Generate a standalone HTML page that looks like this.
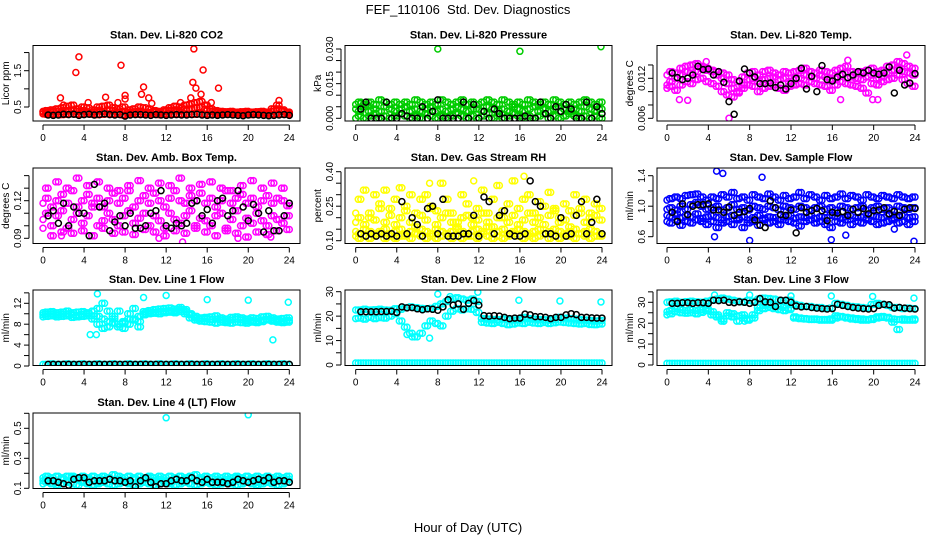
<!DOCTYPE html>
<html><head><meta charset="utf-8"><style>
html,body{margin:0;padding:0;background:#fff;}
svg{display:block;font-family:"Liberation Sans",Arial,sans-serif;}
</style></head><body>
<svg id="chart" width="936" height="540" viewBox="0 0 936 540" xmlns="http://www.w3.org/2000/svg">
<text x="468" y="14" text-anchor="middle" font-size="13" xml:space="preserve">FEF_110106  Std. Dev. Diagnostics</text>
<text x="468" y="532" text-anchor="middle" font-size="13">Hour of Day (UTC)</text>
</svg>
<script>
const hours=[0,0.5,1,1.5,2,2.5,3,3.5,4,4.5,5,5.5,6,6.5,7,7.5,8,8.5,9,9.5,10,10.5,11,11.5,12,12.5,13,13.5,14,14.5,15,15.5,16,16.5,17,17.5,18,18.5,19,19.5,20,20.5,21,21.5,22,22.5,23,23.5,24];
const hoursQ=[0.25,0.75,1.25,1.75,2.25,2.75,3.25,3.75,4.25,4.75,5.25,5.75,6.25,6.75,7.25,7.75,8.25,8.75,9.25,9.75,10.25,10.75,11.25,11.75,12.25,12.75,13.25,13.75,14.25,14.75,15.25,15.75,16.25,16.75,17.25,17.75,18.25,18.75,19.25,19.75,20.25,20.75,21.25,21.75,22.25,22.75,23.25,23.75];
const xTicks=[0,4,8,12,16,20,24];

const co2A=[0.31,0.30,0.30,0.31,0.29,0.30,0.31,0.30,0.30,0.31,0.30,0.29,0.30,0.31,0.30,0.30,0.28,0.30,0.31,0.30,0.30,0.31,0.30,0.29,0.30,0.31,0.30,0.30,0.31,0.30,0.30,0.31,0.30,0.29,0.30,0.31,0.30,0.30,0.31,0.30,0.30,0.29,0.30,0.31,0.30,0.30,0.31,0.30,0.30];
const co2B=[0.38,0.40,0.42,0.45,0.48,0.52,0.55,0.45,0.50,0.48,0.42,0.50,0.52,0.55,0.48,0.45,0.50,0.42,0.45,0.50,0.48,0.44,0.40,0.38,0.42,0.48,0.52,0.50,0.55,0.58,0.62,0.65,0.55,0.45,0.40,0.38,0.37,0.38,0.36,0.37,0.38,0.36,0.37,0.38,0.36,0.45,0.55,0.42,0.36];
const co2C=[0.36,0.35,0.37,0.38,0.36,0.40,0.42,0.38,0.40,0.37,0.36,0.40,0.38,0.42,0.40,0.36,0.38,0.35,0.37,0.38,0.36,0.35,0.37,0.34,0.38,0.40,0.42,0.40,0.44,0.45,0.48,0.50,0.44,0.38,0.36,0.35,0.34,0.35,0.34,0.35,0.36,0.34,0.35,0.36,0.34,0.38,0.45,0.38,0.34];
const co2OutX=[1.7,2.0,3.2,3.5,7.6,8.0,8.0,9.6,9.8,10.3,10.6,13.4,14.4,14.6,14.7,14.9,15.4,15.6,16.4,17.1,23.0,6.1,4.4,7.3];
const co2OutY=[0.75,0.55,1.45,1.88,1.65,0.82,0.72,0.85,1.05,0.75,0.60,0.62,0.75,1.18,2.10,1.02,0.85,1.52,0.62,1.02,0.68,0.77,0.62,0.62];
const co2Black=[null,0.28,0.27,0.28,0.30,0.29,0.30,0.27,0.29,0.30,0.28,0.29,0.31,0.29,0.28,0.29,0.25,0.28,0.29,0.29,0.28,0.27,0.29,0.28,0.27,0.28,0.29,0.28,0.28,0.29,0.30,0.28,0.27,0.28,0.27,0.28,0.29,0.28,0.27,0.26,0.28,0.29,0.28,0.27,0.26,0.27,0.28,0.29,0.27];

const presA=[0.000,0.001,0.000,0.001,0.002,0.000,0.001,0.000,0.001,0.002,0.001,0.000,0.001,0.000,0.002,0.001,0.000,0.001,0.000,0.001,0.002,0.001,0.000,0.001,0.000,0.001,0.002,0.000,0.001,0.000,0.001,0.002,0.001,0.000,0.001,0.000,0.001,0.002,0.000,0.001,0.000,0.001,0.002,0.001,0.000,0.001,0.000,0.001,0.000];
const presB=[0.004,0.003,0.005,0.003,0.004,0.003,0.005,0.004,0.003,0.004,0.005,0.003,0.004,0.003,0.004,0.005,0.003,0.004,0.003,0.004,0.005,0.004,0.003,0.004,0.004,0.003,0.005,0.004,0.003,0.004,0.003,0.005,0.004,0.003,0.004,0.005,0.003,0.004,0.003,0.004,0.005,0.004,0.003,0.004,0.003,0.005,0.004,0.003,0.004];
const presC=[0.006,0.007,0.006,0.007,0.006,0.008,0.007,0.006,0.007,0.006,0.007,0.006,0.008,0.007,0.006,0.007,0.006,0.008,0.007,0.006,0.007,0.008,0.006,0.007,0.006,0.007,0.008,0.007,0.006,0.008,0.007,0.006,0.007,0.006,0.008,0.007,0.006,0.007,0.006,0.008,0.007,0.006,0.007,0.006,0.007,0.008,0.007,0.006,0.007];
const presOutX=[0.5,1.2,8.0,16.0,23.9];
const presOutY=[0.0065,0.0055,0.030,0.029,0.031];
const presBlack=[null,0.004,0.007,0.000,0.000,0.000,0.007,0.000,0.000,0.002,0.001,0.000,0.000,0.005,0.000,0.003,0.008,0.000,0.000,0.000,0.000,0.007,0.000,0.006,0.000,0.003,0.000,0.004,0.002,0.000,0.000,0.000,0.000,0.001,0.000,0.000,0.007,0.002,0.000,0.005,0.003,0.006,0.004,0.000,0.000,0.007,0.000,0.005,0.002];

const tempA=[0.0110,0.0115,0.0120,0.0125,0.0130,0.0128,0.0130,0.0135,0.0132,0.0130,0.0125,0.0120,0.0112,0.0105,0.0100,0.0110,0.0118,0.0120,0.0115,0.0118,0.0120,0.0122,0.0118,0.0120,0.0115,0.0118,0.0120,0.0125,0.0122,0.0120,0.0125,0.0122,0.0118,0.0120,0.0125,0.0128,0.0122,0.0120,0.0118,0.0122,0.0125,0.0120,0.0122,0.0128,0.0132,0.0135,0.0130,0.0128,0.0125];
const tempB=[0.0105,0.0108,0.0102,0.0110,0.0115,0.0112,0.0118,0.0120,0.0115,0.0112,0.0108,0.0100,0.0095,0.0092,0.0098,0.0105,0.0110,0.0108,0.0100,0.0105,0.0108,0.0110,0.0105,0.0102,0.0108,0.0110,0.0112,0.0110,0.0115,0.0112,0.0110,0.0108,0.0102,0.0110,0.0115,0.0112,0.0110,0.0108,0.0105,0.0098,0.0112,0.0110,0.0115,0.0118,0.0120,0.0125,0.0118,0.0112,0.0108];
const tempC=[0.0125,0.0130,0.0128,0.0135,0.0138,0.0140,0.0142,0.0138,0.0135,0.0132,0.0130,0.0128,0.0125,0.0118,0.0115,0.0122,0.0128,0.0130,0.0125,0.0130,0.0132,0.0128,0.0125,0.0130,0.0128,0.0130,0.0132,0.0135,0.0130,0.0128,0.0132,0.0130,0.0128,0.0132,0.0135,0.0138,0.0130,0.0128,0.0130,0.0132,0.0135,0.0130,0.0132,0.0138,0.0140,0.0145,0.0142,0.0138,0.0135];
const tempOutX=[1.2,2.0,6.0,16.8,19.9,20.4,23.2,17.5,3.8];
const tempOutY=[0.0088,0.0087,0.0060,0.0088,0.0088,0.0088,0.0155,0.0147,0.0145];
const tempBlack=[null,0.0128,0.0121,0.0118,0.0120,0.0125,0.0138,0.0133,0.0134,0.0125,0.0130,0.0114,0.0085,0.0066,0.0116,0.0134,0.0128,0.0122,0.0112,0.0112,0.0113,0.0106,0.0110,0.0104,0.0112,0.0120,0.0135,0.0104,0.0123,0.0100,0.0139,0.0118,0.0116,0.0122,0.0126,0.0121,0.0125,0.0130,0.0128,0.0132,0.0128,0.0126,0.0128,0.0137,0.0098,0.0132,0.0110,0.0113,0.0127];

const ambA=[0.105,0.110,0.100,0.108,0.112,0.098,0.105,0.110,0.102,0.108,0.115,0.100,0.104,0.110,0.105,0.100,0.108,0.112,0.102,0.106,0.110,0.100,0.108,0.104,0.098,0.110,0.105,0.102,0.108,0.112,0.100,0.106,0.104,0.100,0.108,0.110,0.098,0.105,0.112,0.100,0.106,0.102,0.110,0.104,0.100,0.108,0.105,0.102,0.108];
const ambB=[0.118,0.122,0.115,0.120,0.125,0.118,0.128,0.115,0.120,0.125,0.118,0.122,0.115,0.120,0.126,0.118,0.122,0.128,0.115,0.120,0.124,0.118,0.126,0.120,0.115,0.122,0.128,0.120,0.118,0.124,0.120,0.126,0.118,0.122,0.115,0.120,0.128,0.118,0.122,0.125,0.118,0.122,0.115,0.120,0.124,0.118,0.122,0.120,0.116];
const ambC=[0.098,0.130,0.092,0.135,0.095,0.130,0.094,0.138,0.096,0.132,0.092,0.135,0.098,0.130,0.094,0.128,0.095,0.132,0.093,0.136,0.097,0.130,0.095,0.134,0.092,0.132,0.096,0.138,0.094,0.130,0.098,0.133,0.095,0.135,0.092,0.130,0.096,0.128,0.094,0.132,0.091,0.136,0.095,0.130,0.093,0.134,0.096,0.130,0.097];
const ambOutX=[4.5,15.8,13.6,19.0,22.2,11.3,1.8];
const ambOutY=[0.150,0.149,0.087,0.090,0.091,0.090,0.092];
const ambBlack=[null,0.108,0.112,0.102,0.118,0.100,0.115,0.110,0.110,0.092,0.133,0.115,0.118,0.096,0.103,0.108,0.100,0.110,0.098,0.098,0.100,0.110,0.112,0.128,0.100,0.098,0.102,0.100,0.102,0.118,0.120,0.108,0.113,0.102,0.120,0.122,0.108,0.112,0.128,0.115,0.104,0.117,0.110,0.095,0.112,0.096,0.096,0.108,0.118];

const rhA=[0.12,0.11,0.12,0.11,0.12,0.13,0.11,0.12,0.11,0.12,0.12,0.11,0.13,0.12,0.11,0.12,0.11,0.12,0.13,0.11,0.12,0.11,0.12,0.12,0.11,0.13,0.12,0.11,0.12,0.11,0.12,0.13,0.12,0.11,0.12,0.11,0.12,0.13,0.11,0.12,0.11,0.12,0.12,0.11,0.13,0.12,0.11,0.12,0.12];
const rhB=[0.14,0.13,0.15,0.14,0.13,0.14,0.15,0.13,0.14,0.15,0.13,0.14,0.13,0.15,0.14,0.13,0.15,0.14,0.13,0.14,0.15,0.14,0.13,0.14,0.15,0.14,0.16,0.13,0.14,0.15,0.13,0.14,0.15,0.14,0.13,0.14,0.15,0.13,0.14,0.15,0.14,0.13,0.14,0.15,0.13,0.14,0.15,0.14,0.13];
const rhC=[0.22,0.28,0.32,0.20,0.30,0.26,0.32,0.24,0.28,0.33,0.25,0.30,0.22,0.28,0.30,0.25,0.23,0.35,0.28,0.22,0.18,0.30,0.26,0.20,0.24,0.32,0.22,0.28,0.34,0.20,0.26,0.36,0.24,0.28,0.30,0.22,0.27,0.25,0.31,0.24,0.20,0.26,0.23,0.30,0.24,0.28,0.22,0.26,0.24];
const rhD=[0.18,0.20,0.17,0.22,0.19,0.24,0.18,0.21,0.17,0.20,0.23,0.18,0.16,0.21,0.19,0.24,0.17,0.20,0.22,0.18,0.16,0.20,0.21,0.17,0.19,0.22,0.18,0.16,0.20,0.23,0.18,0.21,0.17,0.19,0.22,0.18,0.20,0.17,0.21,0.23,0.18,0.19,0.16,0.21,0.22,0.18,0.20,0.21,0.19];
const rhOutX=[15.9,16.4,11.5,7.2];
const rhOutY=[0.43,0.38,0.36,0.35];
const rhBlack=[null,0.13,0.12,0.13,0.12,0.13,0.12,0.13,0.12,0.27,0.13,0.20,0.17,0.12,0.24,0.25,0.13,0.28,0.12,0.12,0.12,0.13,0.13,0.21,0.12,0.29,0.27,0.13,0.21,0.23,0.13,0.12,0.12,0.13,0.36,0.27,0.25,0.13,0.13,0.12,0.20,0.12,0.13,0.21,0.27,0.13,0.18,0.28,0.13];

const sfA=[0.88,0.86,0.90,0.85,0.88,0.86,0.90,0.84,0.86,0.88,0.85,0.82,0.86,0.88,0.84,0.86,0.82,0.85,0.88,0.84,0.86,0.85,0.82,0.86,0.88,0.84,0.86,0.85,0.88,0.84,0.86,0.85,0.88,0.86,0.84,0.86,0.88,0.85,0.86,0.84,0.88,0.86,0.85,0.88,0.84,0.86,0.88,0.85,0.86];
const sfB=[0.96,0.98,0.95,1.00,0.96,1.02,1.05,1.00,0.96,0.98,1.00,0.95,0.98,1.02,0.96,0.98,0.95,1.00,0.98,0.96,1.00,0.98,0.95,1.00,0.98,0.96,1.00,0.98,0.95,0.98,1.00,0.96,0.98,0.95,1.00,0.98,0.96,0.98,1.00,0.95,0.98,1.00,0.96,0.98,0.95,1.00,0.98,0.96,0.98];
const sfC=[1.08,1.10,1.12,1.10,1.14,1.15,1.16,1.12,1.08,1.12,1.10,1.15,1.12,1.18,1.10,1.12,1.08,1.15,1.12,1.10,1.16,1.12,1.08,1.14,1.10,1.12,1.18,1.10,1.15,1.12,1.08,1.14,1.10,1.12,1.16,1.10,1.14,1.12,1.08,1.15,1.12,1.10,1.14,1.12,1.10,1.15,1.12,1.10,1.12];
const sfD=[0.80,0.78,0.82,0.75,0.80,0.78,0.82,0.80,0.76,0.80,0.72,0.78,0.80,0.76,0.82,0.72,0.78,0.80,0.75,0.82,0.78,0.80,0.76,0.82,0.80,0.78,0.74,0.80,0.82,0.78,0.80,0.76,0.72,0.80,0.78,0.82,0.76,0.80,0.78,0.82,0.80,0.76,0.78,0.80,0.82,0.78,0.80,0.76,0.80];
const sfOutX=[4.8,5.4,9.2,8.0,15.9,23.9,4.6,17.3,22.0];
const sfOutY=[1.46,1.43,1.38,0.55,0.56,0.54,0.60,0.62,0.70];
const sfBlack=[null,0.92,0.80,1.03,0.89,1.00,1.02,1.02,1.03,0.95,0.95,0.92,0.99,0.88,0.92,0.93,0.97,0.82,0.75,0.72,1.07,0.98,0.89,0.88,0.95,0.65,0.98,0.92,0.94,0.97,0.94,0.81,0.92,0.91,0.93,0.88,0.96,0.92,0.97,0.90,0.94,0.95,0.98,0.90,0.93,0.88,0.96,0.98,0.97];

const l1A=[9.8,9.9,10.0,9.8,9.9,10.0,9.8,9.7,9.9,10.0,9.6,9.5,9.0,8.5,8.2,8.0,8.5,9.0,8.8,8.5,10.0,10.2,10.3,10.4,10.5,10.6,10.5,10.8,10.4,10.0,9.5,9.2,9.0,8.9,9.0,8.8,8.6,8.8,9.0,8.8,8.6,8.7,8.6,8.8,9.0,8.8,8.7,8.6,8.7];
const l1B=[9.4,9.5,9.6,9.4,9.5,9.6,9.3,9.4,9.5,9.6,10.5,11.0,12.0,10.5,9.0,7.5,8.2,10.0,11.0,9.5,9.8,10.0,10.1,10.0,10.2,10.3,10.2,10.4,10.0,9.2,8.8,8.6,8.5,8.4,8.2,8.4,8.3,8.2,8.4,8.3,8.2,8.4,8.3,8.5,8.8,8.6,8.4,8.3,8.4];
const l1C=[10.2,10.3,10.4,10.2,10.3,10.5,10.2,10.3,10.4,10.2,9.0,8.0,7.2,7.5,9.5,10.5,7.2,8.0,9.0,7.5,10.4,10.6,10.8,10.9,11.0,11.1,10.9,11.2,10.8,9.8,9.2,9.0,9.3,9.4,9.6,9.2,9.0,9.3,9.4,9.2,9.0,9.2,9.1,9.4,9.5,9.2,9.0,9.1,9.2];
const l1Z=[0.3,0.3,0.4,0.3,0.3,0.4,0.3,0.3,0.4,0.3,0.3,0.4,0.3,0.3,0.4,0.3,0.3,0.4,0.3,0.3,0.4,0.3,0.3,0.4,0.3,0.3,0.4,0.3,0.3,0.4,0.3,0.3,0.4,0.3,0.3,0.4,0.3,0.3,0.4,0.3,0.3,0.4,0.3,0.3,0.4,0.3,0.3,0.4,0.3];
const l1OutX=[5.3,9.8,12.0,16.0,20.0,23.9,22.4,4.6,5.2];
const l1OutY=[13.8,13.1,13.5,12.7,12.6,12.2,5.0,6.0,6.0];
const l1Black=[null,0.3,0.3,0.3,0.3,0.3,0.3,0.3,0.3,0.3,0.3,0.3,0.3,0.3,0.3,0.3,0.3,0.3,0.3,0.3,0.3,0.3,0.3,0.3,0.3,0.3,0.3,0.3,0.3,0.3,0.3,0.3,0.3,0.3,0.3,0.3,0.3,0.3,0.3,0.3,0.3,0.3,0.3,0.3,0.3,0.3,0.3,0.3,0.3];

const l2A=[22.5,22.5,22.8,22.5,22.6,22.8,22.5,22.4,23.0,22.8,23.5,23.8,23.5,23.2,23.0,23.2,24.0,25.0,26.0,27.0,27.5,27.0,26.5,27.0,26.0,19.0,18.8,18.6,18.5,18.8,18.6,18.4,18.5,19.5,19.0,18.8,18.6,18.5,18.4,18.6,19.5,19.2,19.0,18.8,18.5,18.4,18.2,18.0,18.2];
const l2B=[19.0,19.2,18.8,19.5,19.0,19.4,19.2,20.0,21.0,18.0,15.5,13.0,11.5,13.0,16.0,18.0,17.0,16.0,20.0,22.0,23.0,22.5,23.0,22.8,21.5,17.5,17.2,17.0,17.5,17.0,16.5,16.8,17.2,17.0,17.5,17.2,17.0,17.4,17.0,17.3,17.6,17.4,17.2,17.0,16.8,17.0,16.6,16.5,16.8];
const l2Z=[0.8,0.8,0.8,0.8,0.8,0.8,0.8,0.8,0.8,0.8,0.8,0.8,0.8,0.8,0.8,0.8,0.8,0.8,0.8,0.8,0.8,0.8,0.8,0.8,0.8,0.8,0.8,0.8,0.8,0.8,0.8,0.8,0.8,0.8,0.8,0.8,0.8,0.8,0.8,0.8,0.8,0.8,0.8,0.8,0.8,0.8,0.8,0.8,0.8];
const l2OutX=[8.0,9.2,11.9,15.9,19.9,23.9,7.2,5.5,5.0];
const l2OutY=[29.0,28.0,29.8,26.5,26.2,25.8,11.0,11.5,12.5];
const l2Black=[null,21.8,21.8,21.8,21.8,21.9,21.9,22.0,21.5,23.8,23.4,23.5,23.0,22.6,23.0,22.8,22.4,23.8,26.7,24.5,25.0,22.8,25.2,26.4,24.5,20.2,20.0,20.2,20.0,19.5,19.0,19.2,19.2,20.8,20.5,19.8,19.8,19.5,19.0,19.5,19.5,20.5,21.0,20.6,19.5,19.5,19.3,19.2,19.2];

const l3A=[30.0,30.2,30.5,30.0,30.3,30.5,30.2,30.0,30.5,31.0,31.5,32.0,31.5,31.0,30.5,30.2,31.0,30.5,31.5,32.0,31.8,31.5,31.0,30.8,31.0,29.0,28.5,28.0,28.0,27.5,27.5,27.0,27.2,29.5,29.0,28.5,28.0,27.8,27.5,27.2,29.0,29.5,29.0,28.5,27.5,27.5,27.0,27.2,27.0];
const l3B=[24.0,24.5,25.5,25.0,24.8,25.0,24.5,25.2,26.0,24.0,23.0,22.0,23.5,24.5,23.5,22.5,21.5,22.5,26.0,27.0,27.5,27.0,26.5,26.0,26.5,22.5,22.2,22.0,21.8,21.8,21.5,21.5,21.5,22.5,23.0,22.5,22.0,21.8,21.5,21.5,21.8,22.5,22.8,22.5,22.0,21.8,21.5,21.5,21.5];
const l3C=[25.5,26.0,27.0,26.5,26.0,26.5,26.0,26.5,27.0,25.5,24.0,21.0,25.0,23.0,21.0,24.0,22.0,24.0,27.5,28.5,29.0,28.5,28.0,27.5,27.0,23.0,22.5,22.2,22.0,22.0,21.8,21.8,22.0,23.5,23.2,22.8,22.5,22.2,22.0,21.8,22.2,23.0,23.2,22.8,20.5,17.0,22.0,21.8,22.0];
const l3Z=[0.8,0.8,0.8,0.8,0.8,0.8,0.8,0.8,0.8,0.8,0.8,0.8,0.8,0.8,0.8,0.8,0.8,0.8,0.8,0.8,0.8,0.8,0.8,0.8,0.8,0.8,0.8,0.8,0.8,0.8,0.8,0.8,0.8,0.8,0.8,0.8,0.8,0.8,0.8,0.8,0.8,0.8,0.8,0.8,0.8,0.8,0.8,0.8,0.8];
const l3OutX=[4.6,8.0,12.0,15.9,19.9,23.9,5.5,7.5];
const l3OutY=[33.5,33.5,33.0,33.0,32.8,32.0,21.0,21.0];
const l3Black=[null,29.5,29.5,29.8,29.8,29.5,29.8,29.8,29.5,31.0,30.8,31.0,30.0,29.8,30.2,30.0,29.5,30.0,31.8,30.2,30.0,28.0,31.0,31.0,30.0,28.2,27.8,28.0,27.5,27.2,27.0,26.8,27.0,29.0,28.5,28.0,27.5,27.2,27.0,26.8,27.0,28.5,29.0,28.8,27.2,27.5,27.2,27.0,26.8];

const l4A=[0.15,0.16,0.15,0.14,0.16,0.15,0.17,0.16,0.15,0.16,0.15,0.14,0.16,0.17,0.15,0.16,0.15,0.14,0.16,0.15,0.16,0.17,0.15,0.16,0.15,0.14,0.16,0.15,0.16,0.17,0.15,0.16,0.15,0.14,0.16,0.15,0.16,0.15,0.17,0.16,0.15,0.16,0.14,0.15,0.16,0.15,0.16,0.15,0.16];
const l4B=[0.13,0.14,0.13,0.12,0.13,0.14,0.13,0.12,0.14,0.13,0.12,0.13,0.14,0.13,0.12,0.13,0.14,0.13,0.12,0.13,0.14,0.13,0.12,0.13,0.14,0.13,0.12,0.13,0.14,0.13,0.12,0.13,0.14,0.13,0.12,0.13,0.14,0.13,0.12,0.13,0.14,0.13,0.12,0.13,0.14,0.13,0.12,0.13,0.14];
const l4C=[0.17,0.18,0.17,0.18,0.17,0.18,0.18,0.17,0.18,0.17,0.18,0.17,0.18,0.17,0.19,0.18,0.17,0.18,0.17,0.18,0.17,0.18,0.17,0.18,0.17,0.18,0.17,0.18,0.17,0.18,0.19,0.17,0.18,0.17,0.18,0.17,0.18,0.17,0.18,0.17,0.18,0.17,0.18,0.17,0.18,0.17,0.18,0.17,0.18];
const l4OutX=[12.0,20.0];
const l4OutY=[0.57,0.59];
const l4Black=[null,0.15,0.15,0.14,0.13,0.12,0.16,0.17,0.17,0.14,0.15,0.15,0.15,0.16,0.15,0.15,0.14,0.15,0.11,0.15,0.17,0.14,0.11,0.13,0.13,0.15,0.16,0.15,0.15,0.17,0.15,0.14,0.16,0.14,0.14,0.14,0.13,0.14,0.16,0.15,0.14,0.15,0.16,0.15,0.17,0.14,0.15,0.15,0.14];

const NS="http://www.w3.org/2000/svg";
const svg=document.getElementById('chart');
const cols=[{x0:43,x24:289.3,l:33,r:300},{x0:355.7,x24:602,l:345,r:612},{x0:667,x24:915,l:657,r:925}];
const rows=[45.5,168,290,413];
const H=75.5;

const panels=[
 {name:'co2',title:'Stan. Dev. Li-820 CO2',yl:'Licor ppm',c:0,r:0,col:'#ff0000',cal:[0.5,107,1.5,70.7],ticks:[0.5,1,1.5,2],labs:['0.5','1.5'],labV:[0.5,1.5],bands:[co2A,co2C,co2B],ox:co2OutX,oy:co2OutY,blk:co2Black},
 {name:'pressure',title:'Stan. Dev. Li-820 Pressure',yl:'kPa',c:1,r:0,col:'#00cc00',cal:[0,118.3,0.03,49],ticks:[0,0.005,0.01,0.015,0.02,0.025,0.03],labs:['0.000','0.015','0.030'],labV:[0,0.015,0.03],bands:[presA,presB,presC],ox:presOutX,oy:presOutY,blk:presBlack},
 {name:'li820-temp',title:'Stan. Dev. Li-820 Temp.',yl:'degrees C',c:2,r:0,col:'#ff00ff',cal:[0.006,118.3,0.012,78.3],ticks:[0.006,0.008,0.010,0.012,0.014],labs:['0.006','0.012'],labV:[0.006,0.012],bands:[tempB,tempA,tempC],ox:tempOutX,oy:tempOutY,blk:tempBlack},
 {name:'amb-box-temp',title:'Stan. Dev. Amb. Box Temp.',yl:'degrees C',c:0,r:1,col:'#ff00ff',cal:[0.09,238.3,0.12,200.7],ticks:[0.09,0.10,0.11,0.12,0.13,0.14],labs:['0.09','0.12'],labV:[0.09,0.12],bands:[ambC,ambA,ambB],ox:ambOutX,oy:ambOutY,blk:ambBlack},
 {name:'gas-rh',title:'Stan. Dev. Gas Stream RH',yl:'percent',c:1,r:1,col:'#ffff00',cal:[0.10,240.7,0.40,171.7],ticks:[0.10,0.15,0.20,0.25,0.30,0.35,0.40],labs:['0.10','0.25','0.40'],labV:[0.10,0.25,0.40],bands:[rhC,rhD,rhB,rhA],ox:rhOutX,oy:rhOutY,blk:rhBlack},
 {name:'sample-flow',title:'Stan. Dev. Sample Flow',yl:'ml/min',c:2,r:1,col:'#0000ff',cal:[0.6,236.7,1.4,175.7],ticks:[0.6,0.8,1.0,1.2,1.4],labs:['0.6','1.0','1.4'],labV:[0.6,1.0,1.4],bands:[sfD,sfC,sfA,sfB],ox:sfOutX,oy:sfOutY,blk:sfBlack},
 {name:'line1-flow',title:'Stan. Dev. Line 1 Flow',yl:'ml/min',c:0,r:2,col:'#00ffff',cal:[0,366,12,303.3],ticks:[0,2,4,6,8,10,12,14],labs:['0','4','8','12'],labV:[0,4,8,12],bands:[l1Z,l1C,l1B,l1A],ox:l1OutX,oy:l1OutY,blk:l1Black},
 {name:'line2-flow',title:'Stan. Dev. Line 2 Flow',yl:'ml/min',c:1,r:2,col:'#00ffff',cal:[0,365,30,291.7],ticks:[0,5,10,15,20,25,30],labs:['0','10','20','30'],labV:[0,10,20,30],bands:[l2Z,l2B,l2A],ox:l2OutX,oy:l2OutY,blk:l2Black},
 {name:'line3-flow',title:'Stan. Dev. Line 3 Flow',yl:'ml/min',c:2,r:2,col:'#00ffff',cal:[0,365,30,302.3],ticks:[0,5,10,15,20,25,30,35],labs:['0','10','20','30'],labV:[0,10,20,30],bands:[l3Z,l3B,l3C,l3A],ox:l3OutX,oy:l3OutY,blk:l3Black},
 {name:'line4-flow',title:'Stan. Dev. Line 4 (LT) Flow',yl:'ml/min',c:0,r:3,col:'#00ffff',cal:[0.1,488.3,0.5,428.3],ticks:[0.1,0.2,0.3,0.4,0.5,0.6],labs:['0.1','0.3','0.5'],labV:[0.1,0.3,0.5],bands:[l4B,l4C,l4A],ox:l4OutX,oy:l4OutY,blk:l4Black}
];

function mk(tag,attrs,parent){const e=document.createElementNS(NS,tag);for(const k in attrs)e.setAttribute(k,attrs[k]);parent.appendChild(e);return e;}

panels.forEach(p=>{
  const C=cols[p.c],top=rows[p.r],bot=top+H;
  const xs=h=>C.x0+(C.x24-C.x0)*h/24;
  const ys=v=>p.cal[1]+(v-p.cal[0])*(p.cal[3]-p.cal[1])/(p.cal[2]-p.cal[0]);
  const g=mk('g',{},svg);
  
  
  const clipId='clip-'+p.name;
  const cp=mk('clipPath',{id:clipId},g);
  mk('rect',{x:C.l,y:top,width:C.r-C.l,height:H},cp);
  const t=mk('text',{x:(C.l+C.r)/2,y:top-7,'text-anchor':'middle','font-size':'11','font-weight':'bold'},g);
  t.textContent=p.title;
  
  
  const yt=mk('text',{x:0,y:0,'text-anchor':'middle','font-size':'10',transform:`translate(${C.l-24},${(top+bot)/2}) rotate(-90)`},g);
  yt.textContent=p.yl;
  
  
  const pts=mk('g',{'clip-path':`url(#${clipId})`,fill:'none','stroke-width':'1.5'},g);
  
  
  const nb=p.bands.length;
  p.bands.forEach((b,bi)=>{
    b.forEach((v,i)=>{if(v===null)return;
      const c=mk('circle',{cx:xs(hours[i]),cy:ys(v),r:3,stroke:p.col},pts);
      
      });
    const other=p.bands[(bi+1)%nb];
    hoursQ.forEach((h,i)=>{const v=other[i+1];if(v===null||v===undefined)return;
      const c=mk('circle',{cx:xs(h),cy:ys(v),r:3,stroke:p.col},pts);
      
      });
  });
  p.ox.forEach((h,i)=>{
    const c=mk('circle',{cx:xs(h),cy:ys(p.oy[i]),r:3,stroke:p.col},pts);
    
    });
  p.blk.forEach((v,i)=>{if(v===null)return;
    const c=mk('circle',{cx:xs(hours[i]),cy:ys(v),r:3,stroke:'#000'},pts);
    
    });
  const box=mk('rect',{x:C.l,y:top,width:C.r-C.l,height:H,fill:'none',stroke:'#000','stroke-width':'1'},g);
  
  
  const xa=mk('g',{stroke:'#000','stroke-width':'1'},g);
  
  
  mk('line',{x1:xs(0),x2:xs(24),y1:bot+4,y2:bot+4},xa);
  xTicks.forEach(h=>{
    mk('line',{x1:xs(h),x2:xs(h),y1:bot+4,y2:bot+9},xa);
    const tl=mk('text',{x:xs(h),y:bot+20,'text-anchor':'middle','font-size':'10',stroke:'none',fill:'#000'},xa);
    tl.textContent=String(h);
    
    });
  const ya=mk('g',{stroke:'#000','stroke-width':'1'},g);
  
  
  const tk=p.ticks;
  mk('line',{x1:C.l-4,x2:C.l-4,y1:ys(tk[0]),y2:ys(tk[tk.length-1])},ya);
  tk.forEach(v=>{mk('line',{x1:C.l-4,x2:C.l-9,y1:ys(v),y2:ys(v)},ya);});
  p.labV.forEach((v,i)=>{
    const tl=mk('text',{x:0,y:0,'text-anchor':'middle','font-size':'10',stroke:'none',fill:'#000',transform:`translate(${C.l-12},${ys(v)}) rotate(-90)`},ya);
    tl.textContent=p.labs[i];
    
    });
});
</script>
</body></html>
